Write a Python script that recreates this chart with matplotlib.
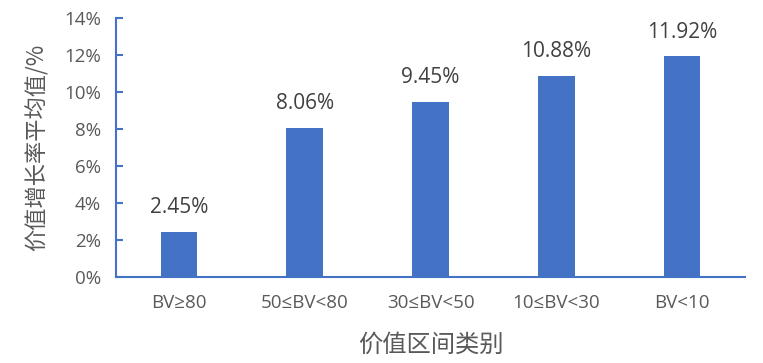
import matplotlib
matplotlib.use("Agg")
from matplotlib import pyplot as plt
from matplotlib.ticker import FuncFormatter
import numpy as np

#latin text first, CJK as fallback
latinFamily = ['Open Sans', 'DejaVu Sans', 'Noto Sans CJK SC']
cjkFamily = ['Noto Sans CJK SC', 'DejaVu Sans']
plt.rcParams['font.family'] = latinFamily

#chart data
categories = ["BV≥80", "50≤BV<80", "30≤BV<50", "10≤BV<30", "BV<10"]
growthValues = [2.45, 8.06, 9.45, 10.88, 11.92]
yTicks = [0, 2, 4, 6, 8, 10, 12, 14]

barColor = "#4472C4"
axisColor = "#4472C4"
textColor = "#595959"

fig = plt.figure(figsize=(7.63, 3.63), dpi=100)
ax = fig.add_axes([116/763, 1-277/363, 629/763, 259/363])

x = np.arange(len(categories))
bars = ax.bar(x, growthValues, width=0.29, color=barColor, zorder=2)

for xi, v in zip(x, growthValues):
    ax.annotate("%.2f%%" % v, (xi, v), xytext=(0, 10), textcoords="offset points",
                ha="center", va="bottom", fontsize=15, color="#404040")

ax.set_xlim(-0.5, len(categories) - 0.5)
ax.set_ylim(0, 14)
ax.set_yticks(yTicks)
ax.yaxis.set_major_formatter(FuncFormatter(lambda v, p: "%d%%" % v))
ax.set_xticks(x)
ax.set_xticklabels(categories)

for side in ["top", "right"]:
    ax.spines[side].set_visible(False)
for side in ["left", "bottom"]:
    ax.spines[side].set_color(axisColor)
    ax.spines[side].set_linewidth(1.5)

ax.tick_params(axis="y", direction="in", length=5, width=1.5, color=axisColor,
               labelsize=13.5, labelcolor=textColor, pad=11)
ax.tick_params(axis="x", length=0, labelsize=13.5, labelcolor=textColor, pad=12)

ax.set_ylabel("价值增长率平均值/%", fontsize=16, color=textColor, family=cjkFamily, va="center")
ax.yaxis.set_label_coords((37-116)/629, 0.5)
ax.set_xlabel("价值区间类别", fontsize=17.5, color=textColor, family=cjkFamily, va="center")
ax.xaxis.set_label_coords(0.5, (277-345)/259)

fig.savefig("out.png", dpi=100)
